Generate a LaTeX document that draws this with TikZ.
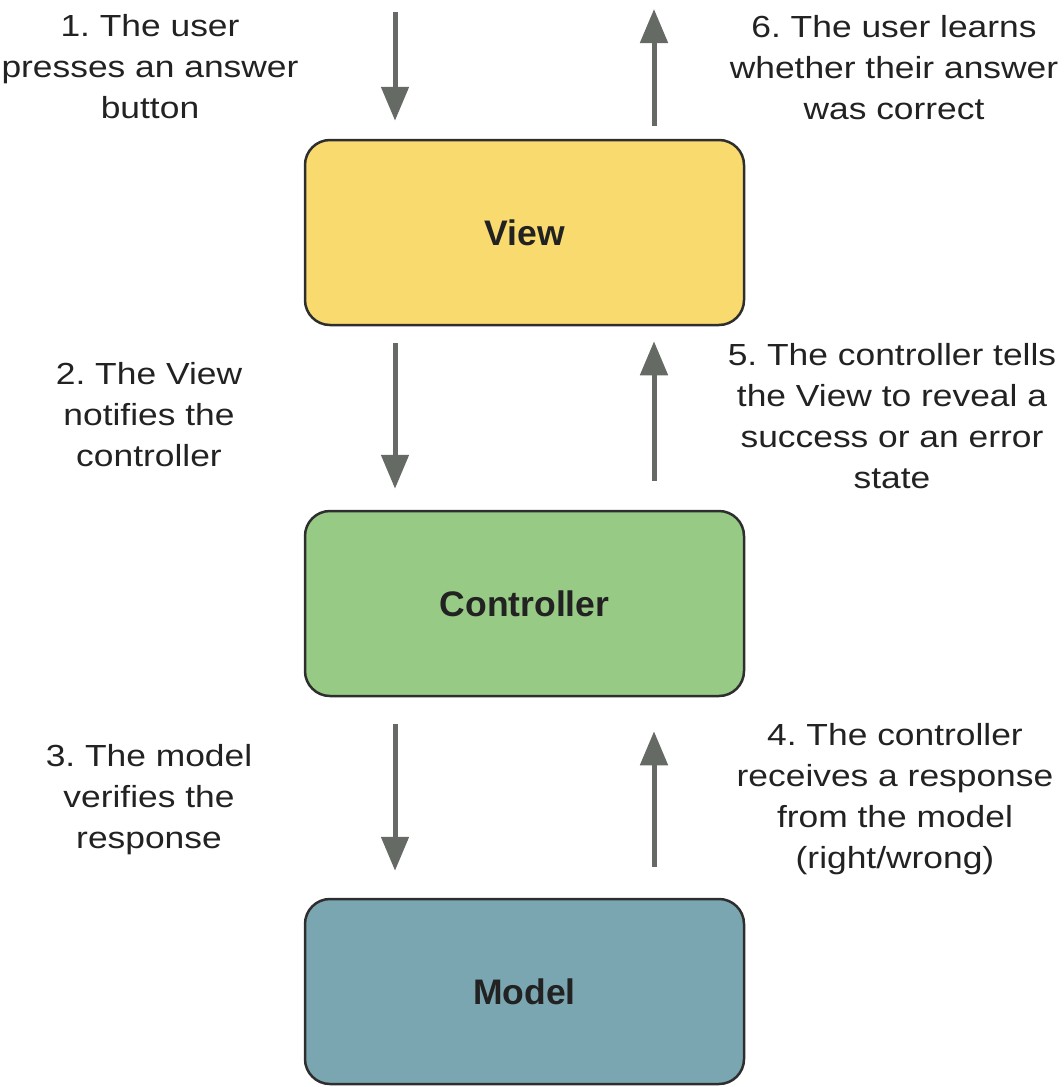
\documentclass[tikz,border=0pt]{standalone}
\usepackage{fontspec}
\setmainfont{Liberation Sans}
\usetikzlibrary{calc, arrows.meta}

\definecolor{viewyellow}{HTML}{F8DA6E}
\definecolor{ctrlgreen}{HTML}{97CA85}
\definecolor{modelblue}{HTML}{7AA6B2}
\definecolor{arrowgray}{HTML}{656A65}
\definecolor{boxline}{HTML}{2E2E2E}
\definecolor{textgray}{HTML}{222222}

\frenchspacing

\begin{document}
\begin{tikzpicture}[x=1pt, y=-1pt,
    >={Triangle[length=34pt, width=27pt]},
    box/.style={draw=boxline, line width=2.5pt, rounded corners=25pt,
        minimum width=439pt, minimum height=185pt, text=textgray,
        font=\bfseries\fontsize{35.5}{40}\selectfont},
    note/.style={align=center, anchor=north, inner sep=0pt, xscale=1.16,
        text=textgray, font=\fontsize{30.5}{41}\selectfont},
    flow/.style={->, line width=5pt, draw=arrowgray}]
    \useasboundingbox (0,0) rectangle (1063,1087);

    \node (V) at (524.5, 232.5) [box, fill=viewyellow] {View};
    \node (C) at ($(V) + (0, 371)$) [box, fill=ctrlgreen] {Controller};
    \node (M) at ($(V) + (0, 759)$) [box, fill=modelblue] {Model};

    \coordinate (in) at (395, 12);
    \coordinate (out) at (654, 9);

    \node (L1) at (150, 14) [note] {1. The user\\presses an answer\\button};
    \node (L2) at (149, 362) [note] {2. The View\\notifies the\\controller};
    \node (L3) at (149, 744) [note] {3. The model\\verifies the\\response};
    \node (L4) at (895, 723) [note] {4. The controller\\receives a response\\from the model\\(right/wrong)};
    \node (L5) at (892, 343) [note] {5. The controller tells\\the View to reveal a\\success or an error\\state};
    \node (L6) at (894, 15) [note] {6. The user learns\\whether their answer\\was correct};

    \draw (in) edge[flow, shorten >=18pt] (in |- V.north);
    \draw (in |- V.south) edge[flow, shorten <=17pt, shorten >=21pt] (in |- C.north);
    \draw (in |- C.south) edge[flow, shorten <=27pt, shorten >=27pt] (in |- M.north);

    \draw (out |- M.north) edge[flow, shorten <=31pt, shorten >=34pt] (out |- C.south);
    \draw (out |- C.north) edge[flow, shorten <=29pt, shorten >=15pt] (out |- V.south);
    \draw (out |- V.north) edge[flow, shorten <=13pt] (out);
\end{tikzpicture}
\end{document}
